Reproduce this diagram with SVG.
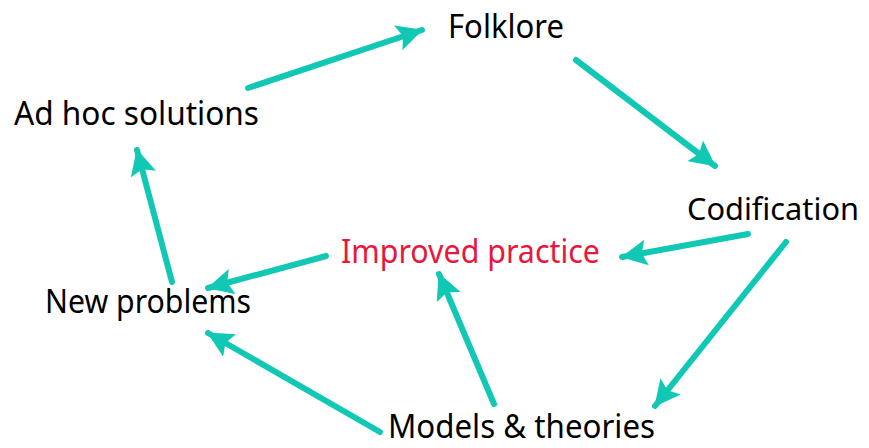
<svg xmlns="http://www.w3.org/2000/svg" width="869" height="448" viewBox="0 0 869 448">
<style>
.t{font-family:"Noto Sans","Open Sans",sans-serif;font-size:33px;fill:#000}
.r{fill:#e8173c}
.c line{stroke:#11c8b4;stroke-width:6;stroke-linecap:round}
</style>
<defs>
<marker id="ah" markerUnits="userSpaceOnUse" markerWidth="28" markerHeight="26" refX="25" refY="13" orient="auto">
<path d="M0,0 L26,13 L0,26 L5,13 Z" fill="#11c8b4"/>
</marker>
</defs>
<rect width="869" height="448" fill="#fff"/>
<g id="connectors" class="c">
<line x1="248" y1="88" x2="422" y2="30" marker-end="url(#ah)"/>
<line x1="576" y1="60" x2="715" y2="166" marker-end="url(#ah)"/>
<line x1="748" y1="234" x2="622" y2="257" marker-end="url(#ah)"/>
<line x1="786" y1="242" x2="655" y2="406" marker-end="url(#ah)"/>
<line x1="326" y1="256" x2="208" y2="288" marker-end="url(#ah)"/>
<line x1="172" y1="282" x2="137" y2="150" marker-end="url(#ah)"/>
<line x1="380" y1="432" x2="208" y2="333" marker-end="url(#ah)"/>
<line x1="494" y1="404" x2="439" y2="274" marker-end="url(#ah)"/>
</g>
<g id="folklore"><text class="t" x="448" y="38" textLength="116" lengthAdjust="spacingAndGlyphs">Folklore</text></g>
<g id="adhoc"><text class="t" x="14" y="125" textLength="245" lengthAdjust="spacingAndGlyphs">Ad hoc solutions</text></g>
<g id="codification"><text class="t" x="687" y="220" font-size="31" style="font-size:31px" textLength="172" lengthAdjust="spacingAndGlyphs">Codification</text></g>
<g id="improved"><text class="t r" x="341" y="263" textLength="259" lengthAdjust="spacingAndGlyphs">Improved practice</text></g>
<g id="newproblems"><text class="t" x="45" y="313" textLength="206" lengthAdjust="spacingAndGlyphs">New problems</text></g>
<g id="models"><text class="t" x="388" y="438" textLength="267" lengthAdjust="spacingAndGlyphs">Models &amp; theories</text></g>
</svg>
